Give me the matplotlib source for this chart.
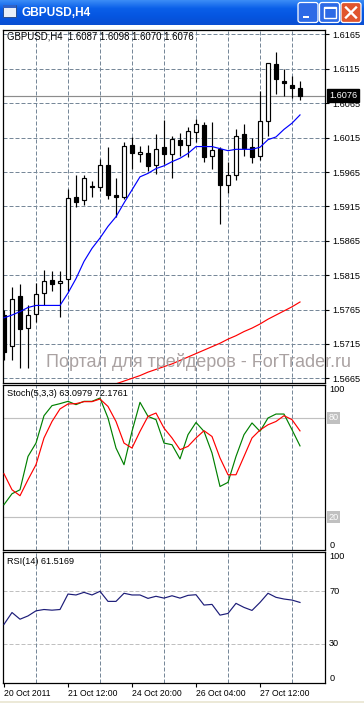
import numpy as np
import matplotlib.pyplot as plt
from matplotlib.patches import FancyBboxPatch, Rectangle
from matplotlib.colors import LinearSegmentedColormap

plt.rcParams['font.family'] = ['Liberation Sans', 'DejaVu Sans']

W, H = 364, 703

# GBPUSD H4 bars (OHLC)
opens = [1.5757, 1.5712, 1.5784, 1.5738, 1.5758, 1.5789, 1.5808, 1.5803, 1.5809, 1.5928,
         1.5924, 1.5943, 1.5943, 1.5975, 1.5931, 1.5929, 1.6004, 1.5991, 1.5992, 1.5975,
         1.6001, 1.5991, 1.6012, 1.6004, 1.6023, 1.6034, 1.5989, 1.5999, 1.5946, 1.5961,
         1.6020, 1.6001, 1.5989, 1.6039, 1.6122, 1.6097, 1.6091, 1.6087]
highs = [1.5765, 1.5798, 1.5802, 1.5772, 1.5803, 1.5822, 1.5821, 1.5821, 1.5940, 1.5960,
         1.5960, 1.5952, 1.5984, 1.6001, 1.5956, 1.6008, 1.6016, 1.6003, 1.6004, 1.6020,
         1.6040, 1.6018, 1.6021, 1.6031, 1.6042, 1.6038, 1.6037, 1.6002, 1.5980, 1.6027,
         1.6035, 1.6014, 1.6083, 1.6124, 1.6140, 1.6115, 1.6104, 1.6098]
lows = [1.5692, 1.5691, 1.5680, 1.5680, 1.5747, 1.5772, 1.5792, 1.5754, 1.5792, 1.5914,
        1.5917, 1.5928, 1.5938, 1.5926, 1.5899, 1.5926, 1.5969, 1.5980, 1.5967, 1.5962,
        1.5976, 1.5956, 1.5988, 1.5987, 1.6009, 1.5979, 1.5969, 1.5889, 1.5934, 1.5953,
        1.5988, 1.5978, 1.5982, 1.6017, 1.6078, 1.6075, 1.6072, 1.6070]
closes = [1.5703, 1.5781, 1.5736, 1.5757, 1.5787, 1.5807, 1.5802, 1.5807, 1.5927, 1.5922,
          1.5956, 1.5944, 1.5975, 1.5931, 1.5929, 1.6003, 1.5992, 1.5994, 1.5974, 1.5999,
          1.5991, 1.6013, 1.6004, 1.6025, 1.6035, 1.5987, 1.5997, 1.5946, 1.5960, 1.6018,
          1.6000, 1.5987, 1.6039, 1.6123, 1.6100, 1.6094, 1.6087, 1.6076]

# moving averages (blue fast, red slow)
ma_fast = [1.5753, 1.5757, 1.5762, 1.5768, 1.5771, 1.5771, 1.5771, 1.5771, 1.5789, 1.5810,
           1.5835, 1.5854, 1.5869, 1.5886, 1.5900, 1.5920, 1.5939, 1.5958, 1.5963, 1.5970,
           1.5974, 1.5980, 1.5985, 1.5992, 1.6002, 1.6002, 1.6002, 1.5999, 1.5996, 1.5998,
           1.5998, 1.5998, 1.6001, 1.6012, 1.6016, 1.6027, 1.6036, 1.6048]
ma_slow = [None] * 13 + [1.5653, 1.5657, 1.5661, 1.5665, 1.5669, 1.5674, 1.5678, 1.5682,
                         1.5686, 1.5691, 1.5696, 1.5701, 1.5706, 1.5711, 1.5716, 1.5722,
                         1.5727, 1.5733, 1.5738, 1.5744, 1.5751, 1.5757, 1.5763, 1.5769, 1.5776]

stoch_k = [27.5, 34.1, 36.5, 56.7, 64.8, 81.4, 87.5, 88.7, 90.1, 88.1, 90.1, 90.1, 92.1,
           80.0, 61.8, 51.7, 71.9, 89.5, 81.0, 79.0, 64.8, 63.8, 55.2, 69.9, 77.3, 71.9,
           58.8, 38.5, 41.0, 56.7, 69.9, 77.0, 71.9, 80.0, 82.4, 82.4, 72.9, 63.1]
stoch_d = [46.2, 36.5, 32.9, 42.6, 51.7, 67.9, 77.9, 85.5, 88.5, 88.7, 89.9, 89.9, 91.5,
           87.0, 77.9, 64.8, 61.8, 71.9, 81.0, 83.0, 73.9, 67.9, 60.8, 62.8, 67.9, 72.3,
           68.8, 55.8, 45.6, 45.6, 56.7, 67.9, 72.7, 75.9, 77.9, 81.4, 79.0, 72.2]
rsi = [44.8, 53.8, 48.7, 51.2, 55.1, 56.1, 55.6, 56.1, 67.9, 67.2, 69.2, 67.2, 70.0,
       62.3, 62.3, 68.5, 67.2, 67.2, 64.6, 66.2, 64.8, 66.6, 64.8, 66.9, 67.4, 59.5,
       60.0, 51.8, 53.1, 60.8, 57.7, 55.4, 61.5, 68.5, 65.4, 64.1, 63.3, 61.5]

price_ticks = [1.5665, 1.5715, 1.5765, 1.5815, 1.5865, 1.5915, 1.5965, 1.6015, 1.6065, 1.6115, 1.6165]
date_ticks = [0, 8, 16, 24, 32]
date_labels = ['20 Oct 2011', '21 Oct 12:00', '24 Oct 20:00', '26 Oct 04:00', '27 Oct 12:00']
grid_ticks = [4, 8, 12, 16, 20, 24, 28, 32, 36]
last_price = 1.6076

GRID = '#778899'
DASH = (0, (4, 2))
x = np.arange(len(opens))

fig = plt.figure(figsize=(W / 100, H / 100), dpi=100)
fig.patch.set_facecolor('white')


def pane(top, bottom, left=3, right=325):
    a = fig.add_axes([left / W, 1 - bottom / H, (right - left) / W, (bottom - top) / H])
    a.set_xlim(-0.125, 40.125)
    for s in a.spines.values():
        s.set_linewidth(0.9)
        s.set_color('black')
    a.yaxis.tick_right()
    a.set_xticks(grid_ticks, minor=True)
    a.set_xticks([])
    a.tick_params(axis='x', which='minor', length=0)
    a.grid(True, which='minor', axis='x', color=GRID, lw=0.72, ls=DASH)
    return a


# ---- title bar ----
tb = fig.add_axes([0, 1 - 25 / H, 1, 25 / H])
tb.set_xlim(0, W)
tb.set_ylim(25, 0)
tb.axis('off')
cmap = LinearSegmentedColormap.from_list('xp', ['#3b8cf6', '#0a5fe9', '#0555e0', '#0a4ed2'])
tb.imshow(np.linspace(0, 1, 50).reshape(-1, 1), extent=(0, W, 25, 0), aspect='auto', cmap=cmap)
tb.add_patch(Rectangle((3, 5), 13, 12, fc='#e8eef8', ec='#2a4f90', lw=0.7))
tb.add_patch(Rectangle((3, 5), 13, 3, fc='#2f62c8', ec='none'))
tb.text(21, 12.5, 'GBPUSD,H4', color='white', fontsize=8.6, fontweight='bold', va='center')
for bx, fc in [(298, '#2d6ae6'), (319.5, '#2d6ae6'), (341, '#e0552e')]:
    tb.add_patch(FancyBboxPatch((bx, 2.5), 20, 20, boxstyle='round,pad=0,rounding_size=2.5',
                                fc=fc, ec='white', lw=0.9))
tb.add_patch(Rectangle((302.5, 15.5), 6.5, 2.5, fc='white', ec='none'))
tb.add_patch(Rectangle((323.5, 7), 12, 11, fc='none', ec='white', lw=1.0))
tb.add_patch(Rectangle((323.5, 7), 12, 2.2, fc='white', ec='none'))
tb.plot([346, 356], [7.5, 17.5], color='white', lw=1.7)
tb.plot([346, 356], [17.5, 7.5], color='white', lw=1.7)

# ---- main price pane ----
ax = pane(30, 383)
ax.set_ylim(1.56582, 1.61715)
ax.set_yticks(price_ticks)
ax.set_yticklabels(['%.4f' % p for p in price_ticks])
ax.tick_params(axis='y', length=3, width=0.8, pad=2, labelsize=6.6)
ax.grid(True, axis='y', color=GRID, lw=0.72, ls=DASH)

body_lo = np.minimum(opens, closes)
body_h = np.maximum(np.abs(np.subtract(closes, opens)), 0.00003)
body_c = ['white' if c >= o else 'black' for o, c in zip(opens, closes)]
ax.vlines(x, lows, highs, color='black', lw=0.85, zorder=3)
ax.bar(x, body_h, bottom=body_lo, width=0.52, color=body_c, edgecolor='black', lw=0.85, zorder=4)
ax.plot(x, ma_fast, color='#0000ff', lw=0.85, zorder=5)
ax.plot(x, np.array(ma_slow, dtype=float), color='#ff0000', lw=0.85, zorder=5)
ax.axhline(last_price, color='#8c8c8c', lw=0.85, zorder=2)
ax.text(1.012, last_price, '%.4f' % last_price, transform=ax.get_yaxis_transform(),
        color='white', fontsize=6.6, va='center', ha='left', zorder=10, clip_on=False,
        bbox=dict(boxstyle='square,pad=0.2', fc='black', ec='black'))
ax.text(0.0125, 0.995, 'GBPUSD,H4  1.6087 1.6098 1.6070 1.6076', transform=ax.transAxes,
        fontsize=6.9, va='top', ha='left')

fig.text(46 / W, 1 - 362 / H, 'Портал для трейдеров - ForTrader.ru', color='#aaa2a2',
         fontsize=13, va='center', ha='left', zorder=20)

# ---- stochastic pane ----
ax2 = pane(385, 550)
ax2.set_ylim(0, 100)
ax2.axhline(80, color='#c0c0c0', lw=0.85, zorder=1)
ax2.axhline(20, color='#c0c0c0', lw=0.85, zorder=1)
ax2.plot(x, stoch_k, color='#008000', lw=0.85, zorder=3)
ax2.plot(x, stoch_d, color='#ff0000', lw=0.85, zorder=4)
ax2.set_yticks([0, 100])
ax2.set_yticklabels(['0', '100'])
ax2.tick_params(axis='y', length=0, pad=3, labelsize=6.6)
for lab, va in zip(ax2.get_yticklabels(), ['bottom', 'top']):
    lab.set_va(va)
for lvl in (80, 20):
    ax2.text(1.012, lvl, str(lvl), transform=ax2.get_yaxis_transform(), color='white',
             fontsize=6.6, va='center', ha='left', clip_on=False,
             bbox=dict(boxstyle='square,pad=0.15', fc='#c0c0c0', ec='none'))
ax2.text(0.0125, 0.975, 'Stoch(5,3,3) 63.0979 72.1761', transform=ax2.transAxes,
         fontsize=6.6, va='top', ha='left')

# ---- RSI pane ----
ax3 = pane(552, 683)
ax3.set_ylim(0, 100)
ax3.axhline(70, color='#c0c0c0', lw=0.72, ls=DASH, zorder=1)
ax3.axhline(30, color='#c0c0c0', lw=0.72, ls=DASH, zorder=1)
ax3.plot(x, rsi, color='#1c1c78', lw=0.85, zorder=3)
ax3.set_yticks([0, 30, 70, 100])
ax3.set_yticklabels(['0', '30', '70', '100'])
ax3.tick_params(axis='y', length=0, pad=3, labelsize=6.6)
for lab, va in zip(ax3.get_yticklabels(), ['bottom', 'center', 'center', 'top']):
    lab.set_va(va)
ax3.set_xticks(date_ticks)
ax3.set_xticklabels(date_labels)
ax3.tick_params(axis='x', which='major', length=3, width=0.8, pad=1.5, labelsize=6.2)
for lab in ax3.get_xticklabels():
    lab.set_ha('left')
ax3.text(0.0125, 0.965, 'RSI(14) 61.5169', transform=ax3.transAxes,
         fontsize=6.6, va='top', ha='left')

fig.patches.append(Rectangle((0, 0), 1, 2 / H, transform=fig.transFigure,
                             fc='#ece9d8', ec='none'))

fig.savefig('out.png', dpi=100)
